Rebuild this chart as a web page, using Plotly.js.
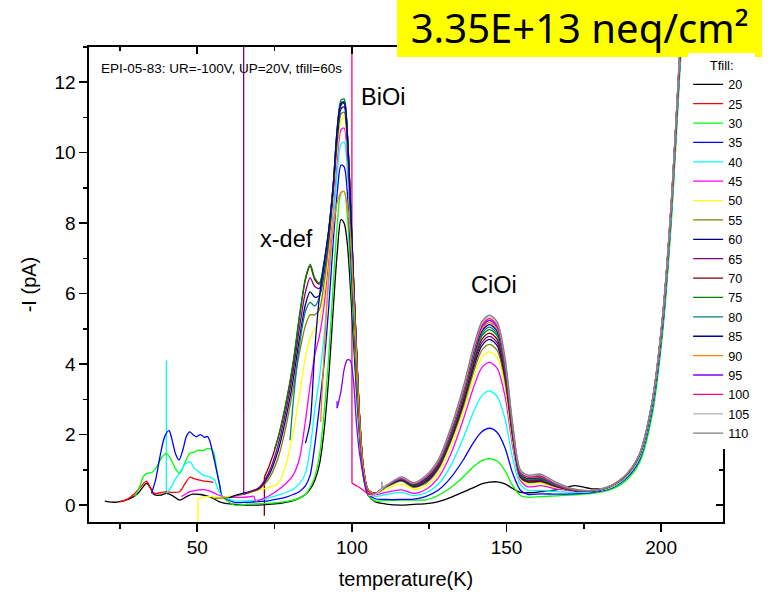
<!DOCTYPE html>
<html><head><meta charset="utf-8">
<script src="https://cdn.plot.ly/plotly-3.0.1.min.js"></script>
<style>html,body{margin:0;padding:0;background:#fff}#chart{width:774px;height:597px}</style>
</head><body><div id="chart"></div>
<script>
// ---------- data ----------
const tfill = [20,25,30,35,40,45,50,55,60,65,70,75,80,85,90,95,100,105,110];
const colors = ['#000000','#ff0000','#00ff00','#0000ff','#00ffff','#ff00ff','#ffff00','#808000','#000080','#800080','#800000','#008000','#008080','#0000a0','#ff8000','#8000ff','#ff0080','#c0c0c0','#808080'];
// series whose first recorded step is a sharp spike (drawn straight)
const spikeSeries = [40,50,65,70,95,100,110];

const xTickVals = [50,100,150,200];
const xTickText = ['50','100','150','200'];
const yTickVals = [0,2,4,6,8,10,12];
const yTickText = ['0','2','4','6','8','10','12'];

// shared temperature grid for the main part of the spectra (K)
const gridT = [58,62,66,70,73,76,
  78.5,81,83,85,86.5,88,89.5,91,92.5,94,
  95.3,96.5,97.5,98.5,99.5,100.5,101.5,102.5,103.7,105.2,
  107.5,111,116,120,124,
  128,132,136,139.5,142,144.5,147,149.5,152,154.5,157,
  161,166,172,178,184,189,193,197,200.5,203.5,206,208];

// low-temperature / start segments of each series
const pre20T = [20.1,21.5,23,25,27,29,31,32.5,33.6,34.8,36,38,40,42,44.3,46.5,48.5,51,53,55,57];
const pre20I = [0.11,0.09,0.08,0.1,0.14,0.22,0.35,0.52,0.62,0.5,0.3,0.28,0.33,0.27,0.14,0.24,0.31,0.3,0.26,0.2,0.1];
const pre25T = [25,27,29.8,31.5,33.6,35,36.2,38,40,42,44.3,46,47.6,49,50.8,53,54.6,55.2];
const pre25I = [0.1,0.15,0.33,0.5,0.68,0.45,0.33,0.35,0.38,0.36,0.38,0.6,0.79,0.75,0.71,0.67,0.66,0.64];
const pre30T = [29.8,31.5,32.5,33.6,35.2,37,38.5,40,41.5,43,44.3,46,47.6,49,50.2,52,53.5,55,56.5,57.5];
const pre30I = [0.24,0.55,0.8,0.9,0.92,1.1,1.35,1.47,1.3,1.02,0.9,1.2,1.47,1.5,1.56,1.55,1.61,1.55,0.9,0.45];
const pre35T = [35.2,36.5,38,39.5,40.9,42,43,44.1,45.3,46.5,47.6,48.6,49.7,51,52.4,53.3,54,55.2,56.2,57.3];
const pre35I = [0.33,0.7,1.4,1.95,2.11,1.8,1.45,1.28,1.55,1.95,2.08,2.0,1.94,2.0,1.92,1.95,1.84,1.4,1.0,0.55];
const pre40T = [40,40.02,41.5,43,44.5,46,47.6,49,50.5,52,54,55.5,56.5,57.5];
const pre40I = [4.1,0.33,0.5,0.75,0.95,1.15,1.23,1.05,0.95,0.85,0.8,0.72,0.5,0.32];
const pre45T = [44.9,46,47.6,49.5,51.8,53.5,54.6,56.5,58.4,61,64,66.5,68.3,68.9];
const pre45I = [0.24,0.3,0.38,0.42,0.44,0.42,0.38,0.3,0.24,0.22,0.22,0.23,0.25,0.1];
const pre50T = [50.2,50.22,51.5,55,57];
const pre50I = [-0.7,0.17,0.22,0.24,0.22];
const pre55T = [55.1,56.5];
const pre55I = [0.19,0.2];
const pre60T = [60.2];
const pre60I = [0.2];
const pre65T = [65,65.02];
const pre65I = [14,0.3];
const pre70T = [71.7,71.72];
const pre70I = [-0.3,0.8];
const pre75T = [75];
const pre75I = [1.6];
const pre80T = [80];
const pre80I = [1.84];
const pre85T = [85,86.5];
const pre85I = [1.76,2.35];
const pre90T = [89.9];
const pre90I = [2.36];
const pre95T = [95.2,95.25];
const pre95I = [2.95,2.75];
const pre100T = [100,100.03];
const pre100I = [14,0.62];
const pre105T = [105.3];
const pre105I = [0.27];
const pre110T = [109.7,109.75];
const pre110I = [0.66,0.43];

// current -I (pA) on gridT
const m20 = [0.07,0.02,0.0,0.0,0.02,0.04,
  0.08,0.13,0.2,0.3,0.45,0.7,1.15,2.1,3.6,5.6,
  7.2,8.1,8.0,7.45,6.2,4.7,3.2,1.9,0.8,0.28,
  0.1,0.03,0.0,0.02,0.04,
  0.1,0.22,0.37,0.5,0.6,0.65,0.66,0.6,0.47,0.36,0.35,
  0.38,0.43,0.55,0.46,0.5,0.8,1.3,2.7,5.1,8.55,12.45,15.3];
const m25 = null;
const m30 = [0.26,0.0,0.03,0.04,0.05,0.07,
  0.1,0.14,0.2,0.3,0.5,0.8,1.4,2.6,4.2,6.3,
  8.0,8.85,8.9,8.25,6.8,5.1,3.5,2.05,0.85,0.3,
  0.12,0.13,0.14,0.14,0.15,
  0.28,0.5,0.8,1.1,1.26,1.32,1.25,0.98,0.55,0.27,0.22,
  0.24,0.26,0.29,0.33,0.45,0.72,1.2,2.5,4.9,8.3,12.2,15.1];
const m35 = [0.26,0.08,0.08,0.1,0.12,0.17,
  0.22,0.3,0.38,0.55,0.85,1.7,2.8,4.0,5.6,7.5,
  8.9,9.65,9.6,8.9,7.3,5.5,3.7,2.15,0.9,0.33,
  0.18,0.16,0.16,0.17,0.25,
  0.43,0.78,1.28,1.8,2.08,2.18,2.06,1.63,0.9,0.42,0.3,
  0.32,0.31,0.32,0.36,0.48,0.78,1.28,2.65,5.05,8.5,12.4,15.3];
const m40 = [0.26,0.12,0.12,0.15,0.2,0.28,
  0.35,0.45,0.6,0.9,1.6,2.7,3.6,4.8,6.3,8.0,
  9.45,10.25,10.3,9.55,7.9,5.9,3.95,2.25,0.95,0.36,
  0.25,0.3,0.36,0.27,0.35,
  0.6,1.12,1.9,2.68,3.1,3.24,3.08,2.45,1.32,0.58,0.42,
  0.42,0.38,0.36,0.38,0.5,0.82,1.33,2.72,5.15,8.6,12.5,15.4];
const m45 = [null,null,null,0.14,0.25,0.42,
  0.6,0.85,1.3,2.4,3.4,4.25,4.8,5.65,7.0,8.5,
  9.85,10.65,10.7,9.9,8.15,6.05,4.05,2.3,0.98,0.38,
  0.3,0.36,0.43,0.33,0.45,
  0.78,1.45,2.42,3.38,3.9,4.05,3.88,3.1,1.66,0.7,0.52,
  0.55,0.46,0.4,0.4,0.52,0.85,1.38,2.8,5.25,8.7,12.6,15.5];
const m50 = [0.22,0.27,0.33,0.43,0.5,0.6,
  1.1,2.05,3.1,4.2,4.75,5.0,5.25,6.0,7.2,8.7,
  10.1,10.9,11.0,10.15,8.35,6.2,4.15,2.35,1.0,0.4,
  0.32,0.45,0.6,0.45,0.55,
  0.9,1.65,2.65,3.65,4.19,4.35,4.19,3.35,1.8,0.76,0.6,
  0.62,0.5,0.42,0.4,0.52,0.85,1.38,2.8,5.25,8.7,12.6,15.5];
const m55 = [0.2,0.25,0.33,0.45,0.72,1.3,
  2.15,3.3,4.3,5.1,5.4,5.4,5.55,6.3,7.4,8.9,
  10.3,11.1,11.15,10.3,8.45,6.3,4.25,2.4,1.02,0.41,
  0.33,0.5,0.68,0.5,0.62,
  1.02,1.8,2.78,3.82,4.39,4.56,4.39,3.52,1.89,0.78,0.64,
  0.66,0.52,0.41,0.4,0.54,0.87,1.4,2.82,5.28,8.75,12.65,15.55];
const m60 = [null,0.27,0.36,0.48,0.82,1.5,
  2.4,3.55,4.7,5.7,6.05,5.9,5.95,6.6,7.6,9.0,
  10.5,11.25,11.3,10.4,8.55,6.4,4.3,2.45,1.04,0.42,
  0.33,0.52,0.7,0.53,0.66,
  1.07,1.86,2.87,3.94,4.52,4.7,4.52,3.63,1.95,0.8,0.66,
  0.68,0.53,0.41,0.4,0.55,0.88,1.42,2.84,5.3,8.8,12.7,15.6];
const m65 = [null,null,0.34,0.5,0.9,1.65,
  2.6,3.8,5.0,6.05,6.45,6.2,6.15,6.75,7.7,9.05,
  10.6,11.35,11.4,10.5,8.6,6.42,4.35,2.48,1.06,0.43,
  0.33,0.53,0.72,0.55,0.7,
  1.1,1.9,2.93,4.02,4.61,4.79,4.61,3.7,1.99,0.82,0.68,
  0.7,0.54,0.41,0.4,0.55,0.88,1.42,2.85,5.3,8.8,12.7,15.6];
const m70 = [null,null,null,null,1.05,1.85,
  2.8,4.0,5.3,6.4,6.78,6.4,6.27,6.85,7.75,9.1,
  10.65,11.4,11.45,10.55,8.65,6.45,4.4,2.5,1.08,0.44,
  0.33,0.54,0.74,0.57,0.72,
  1.13,1.93,2.98,4.1,4.7,4.88,4.7,3.77,2.03,0.84,0.7,
  0.72,0.55,0.41,0.4,0.55,0.88,1.43,2.86,5.32,8.82,12.72,15.62];
const m75 = [null,null,null,null,null,1.87,
  2.82,4.05,5.35,6.45,6.84,6.45,6.3,6.9,7.8,9.15,
  10.75,11.5,11.52,10.6,8.7,6.5,4.42,2.52,1.1,0.45,
  0.33,0.54,0.74,0.58,0.74,
  1.16,1.97,3.05,4.18,4.8,4.98,4.8,3.85,2.07,0.86,0.72,
  0.74,0.56,0.42,0.4,0.55,0.88,1.43,2.86,5.33,8.83,12.75,15.65];
const m80 = [null,null,null,null,null,null,
  null,2.9,4.5,5.5,5.75,5.65,5.9,6.7,7.75,9.1,
  10.7,11.42,11.45,10.58,8.68,6.48,4.4,2.5,1.08,0.44,
  0.33,0.54,0.74,0.59,0.76,
  1.18,2.0,3.1,4.24,4.86,5.05,4.86,3.9,2.1,0.88,0.74,
  0.76,0.57,0.42,0.4,0.55,0.88,1.43,2.86,5.34,8.84,12.76,15.66];
const m85 = [null,null,null,null,null,null,
  null,null,null,null,null,4.4,5.9,6.85,7.8,9.1,
  10.7,11.4,11.42,10.58,8.68,6.48,4.4,2.5,1.08,0.44,
  0.33,0.55,0.74,0.6,0.77,
  1.2,2.04,3.14,4.3,4.93,5.12,4.93,3.96,2.14,0.9,0.76,
  0.78,0.58,0.43,0.41,0.56,0.89,1.44,2.87,5.35,8.85,12.78,15.68];
const m90 = [null,null,null,null,null,null,
  null,null,null,null,null,null,null,4.3,6.5,7.9,
  8.6,8.88,8.9,8.5,7.7,6.1,4.25,2.45,1.08,0.44,
  0.33,0.55,0.75,0.61,0.79,
  1.22,2.07,3.18,4.36,4.99,5.18,4.99,4.01,2.17,0.92,0.78,
  0.8,0.59,0.43,0.41,0.56,0.89,1.44,2.88,5.36,8.86,12.8,15.7];
const m95 = [null,null,null,null,null,null,
  null,null,null,null,null,null,null,null,null,null,
  null,3.25,3.85,4.12,4.1,3.55,2.3,1.45,0.85,0.33,
  0.32,0.55,0.76,0.62,0.8,
  1.24,2.1,3.23,4.41,5.05,5.24,5.05,4.06,2.2,0.94,0.8,
  0.82,0.6,0.44,0.41,0.56,0.89,1.44,2.88,5.37,8.87,12.8,15.7];
const m100 = [null,null,null,null,null,null,
  null,null,null,null,null,null,null,null,null,null,
  null,null,null,null,null,0.6,0.55,0.5,0.42,0.32,
  0.3,0.55,0.77,0.62,0.81,
  1.26,2.14,3.27,4.45,5.1,5.29,5.1,4.1,2.24,0.96,0.81,
  0.84,0.62,0.44,0.42,0.56,0.9,1.45,2.89,5.38,8.88,12.82,15.72];
const m105 = [null,null,null,null,null,null,
  null,null,null,null,null,null,null,null,null,null,
  null,null,null,null,null,null,null,null,null,null,
  0.3,0.55,0.79,0.63,0.83,
  1.28,2.17,3.31,4.5,5.15,5.34,5.15,4.15,2.27,0.98,0.83,
  0.86,0.63,0.45,0.42,0.56,0.9,1.45,2.9,5.39,8.89,12.84,15.75];
const m110 = [null,null,null,null,null,null,
  null,null,null,null,null,null,null,null,null,null,
  null,null,null,null,null,null,null,null,null,null,
  null,0.52,0.8,0.64,0.85,
  1.3,2.2,3.35,4.55,5.2,5.39,5.2,4.2,2.3,1.0,0.85,
  0.88,0.65,0.45,0.42,0.56,0.9,1.45,2.9,5.4,8.9,12.85,15.8];

// ---------- build traces ----------
const preT = [pre20T,pre25T,pre30T,pre35T,pre40T,pre45T,pre50T,pre55T,pre60T,pre65T,pre70T,pre75T,pre80T,pre85T,pre90T,pre95T,pre100T,pre105T,pre110T];
const preI = [pre20I,pre25I,pre30I,pre35I,pre40I,pre45I,pre50I,pre55I,pre60I,pre65I,pre70I,pre75I,pre80I,pre85I,pre90I,pre95I,pre100I,pre105I,pre110I];
const mainI = [m20,m25,m30,m35,m40,m45,m50,m55,m60,m65,m70,m75,m80,m85,m90,m95,m100,m105,m110];

const traces = [];
const spikeTraces = [];
tfill.forEach((tf, k) => {
  const xs = [], ys = [];
  preT[k].forEach((t, j) => { xs.push(t); ys.push(preI[k][j]); });
  const last = xs.length ? xs[xs.length - 1] : -Infinity;
  if (mainI[k]) {
    gridT.forEach((t, j) => {
      const v = mainI[k][j];
      if (t > last && v !== null) { xs.push(t); ys.push(v); }
    });
  }
  const group = 'g' + tf;
  let sx = xs, sy = ys;
  if (spikeSeries.includes(tf)) {
    spikeTraces.push({type: 'scatter', mode: 'lines', x: xs.slice(0, 2), y: ys.slice(0, 2),
      line: {color: colors[k], width: 1.3, shape: 'linear'}, legendgroup: group, showlegend: false,
      xaxis: 'x', yaxis: 'y', hoverinfo: 'skip'});
    sx = xs.slice(1); sy = ys.slice(1);
  }
  traces.push({
    type: 'scatter', mode: 'lines', x: sx, y: sy, name: String(tf), legendgroup: group,
    line: {color: colors[k], width: 1.3, shape: 'spline', smoothing: 0.8},
    xaxis: 'x', yaxis: 'y', hoverinfo: 'skip'
  });
});
const allTraces = spikeTraces.concat(traces);
// carrier for the mirrored top/right axes (no marks)
allTraces.push({type: 'scatter', mode: 'lines', x: [null], y: [null], xaxis: 'x2', yaxis: 'y2', showlegend: false, hoverinfo: 'skip'});

const FONT = 'Liberation Sans, Arial, sans-serif';
const layout = {
  width: 774, height: 597,
  margin: {l: 89, r: 51, t: 47, b: 75, autoexpand: false},
  paper_bgcolor: '#ffffff', plot_bgcolor: '#ffffff',
  font: {family: FONT, color: '#000'},
  title: {text: '3.35E+13 neq/cm²', font: {family: 'Noto Sans', size: 40, color: '#000'},
          xref: 'container', yref: 'container', x: 0.749, y: 0.951, xanchor: 'center', yanchor: 'middle'},
  xaxis: {range: [15, 220], tickmode: 'array', tickvals: xTickVals, ticktext: xTickText,
          ticks: 'outside', ticklen: 8, tickwidth: 1.5, tickcolor: '#000',
          minor: {dtick: 25, tick0: 0, ticks: 'outside', ticklen: 5, tickwidth: 1.5, tickcolor: '#000'},
          showline: true, linewidth: 1.6, linecolor: '#000', showgrid: false, zeroline: false,
          tickfont: {family: FONT, size: 19}, anchor: 'y',
          title: {text: 'temperature(K)', font: {family: FONT, size: 20}, standoff: 14}},
  yaxis: {range: [-0.48, 13], tickmode: 'array', tickvals: yTickVals, ticktext: yTickText,
          ticks: 'outside', ticklen: 8, tickwidth: 1.5, tickcolor: '#000',
          minor: {dtick: 1, tick0: 0, ticks: 'outside', ticklen: 4, tickwidth: 1.5, tickcolor: '#000'},
          showline: true, linewidth: 1.6, linecolor: '#000', showgrid: false, zeroline: false,
          tickfont: {family: FONT, size: 19}, anchor: 'x',
          title: {text: '-I (pA)', font: {family: FONT, size: 20}, standoff: 12}},
  xaxis2: {overlaying: 'x', side: 'top', anchor: 'y2', range: [15, 220], tickmode: 'array', tickvals: xTickVals,
           showticklabels: false, ticks: 'inside', ticklen: 7, tickwidth: 1.5, tickcolor: '#000',
           minor: {dtick: 25, tick0: 0, ticks: 'inside', ticklen: 4, tickwidth: 1.5, tickcolor: '#000'},
           showline: true, linewidth: 1.6, linecolor: '#000', showgrid: false, zeroline: false},
  yaxis2: {overlaying: 'y', side: 'right', anchor: 'x2', range: [-0.48, 13], tickmode: 'array', tickvals: yTickVals,
           showticklabels: false, ticks: 'inside', ticklen: 7, tickwidth: 1.5, tickcolor: '#000',
           minor: {dtick: 1, tick0: 0, ticks: 'inside', ticklen: 4, tickwidth: 1.5, tickcolor: '#000'},
           showline: true, linewidth: 1.6, linecolor: '#000', showgrid: false, zeroline: false},
  showlegend: true,
  legend: {x: 0.945, xanchor: 'left', y: 0.988, yanchor: 'top', bgcolor: '#ffffff', borderwidth: 0,
           font: {family: FONT, size: 12.6, color: '#000'}, itemwidth: 30, tracegroupgap: 0,
           title: {text: 'Tfill:', side: 'top center', font: {family: FONT, size: 13}}},
  shapes: [{type: 'rect', xref: 'paper', yref: 'paper', x0: 0.4858, x1: 1.0615, y0: 0.979, y1: 1.12,
            fillcolor: '#ffff00', line: {width: 0}, layer: 'above'}],
  annotations: [
    {xref: 'x', yref: 'y', x: 18.2, y: 12.4, xanchor: 'left', yanchor: 'middle', showarrow: false,
     text: 'EPI-05-83: UR=-100V, UP=20V, tfill=60s', font: {family: FONT, size: 13.5, color: '#000'}},
    {xref: 'x', yref: 'y', x: 102.2, y: 11.58, xanchor: 'left', yanchor: 'middle', showarrow: false,
     text: 'BiOi', font: {family: FONT, size: 23.5, color: '#000'}},
    {xref: 'x', yref: 'y', x: 69.5, y: 7.55, xanchor: 'left', yanchor: 'middle', showarrow: false,
     text: 'x-def', font: {family: FONT, size: 23.5, color: '#000'}},
    {xref: 'x', yref: 'y', x: 138.0, y: 6.24, xanchor: 'left', yanchor: 'middle', showarrow: false,
     text: 'CiOi', font: {family: FONT, size: 23.5, color: '#000'}}
  ],
  hovermode: false
};

Plotly.newPlot('chart', allTraces, layout, {displayModeBar: false, staticPlot: true});
</script>
</body></html>
